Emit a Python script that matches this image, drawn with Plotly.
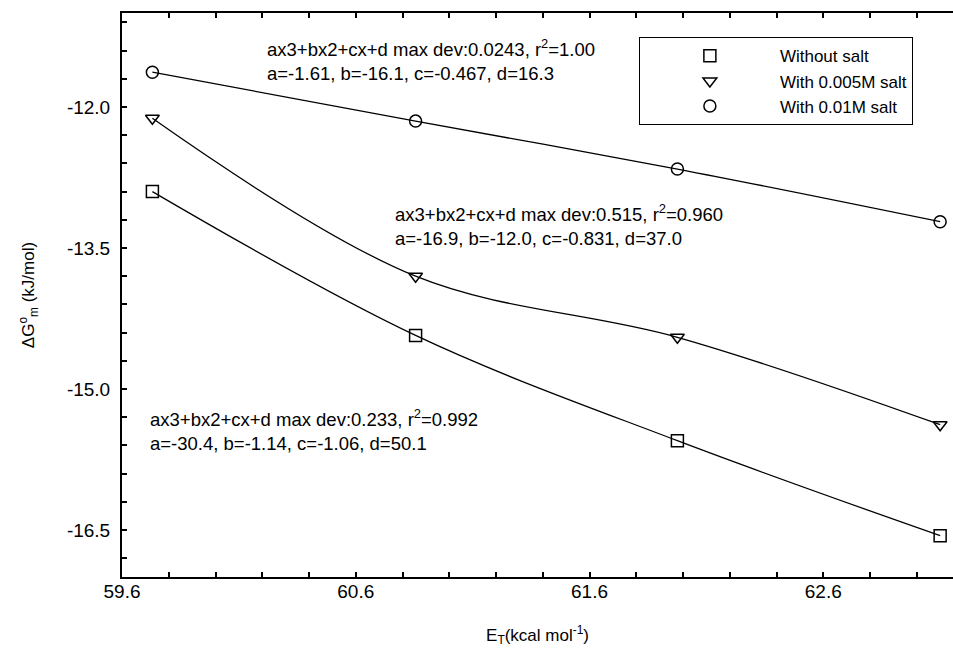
import plotly.graph_objects as go

# Data
ET = [59.73, 60.856, 61.976, 63.10]
without_salt = [-12.90, -14.43, -15.55, -16.56]
salt_0005 = [-12.12, -13.80, -14.45, -15.38]
salt_001 = [-11.63, -12.15, -12.66, -13.22]

series_names = ["Without salt", "With 0.005M salt", "With 0.01M salt"]
series_values = [without_salt, salt_0005, salt_001]
series_symbols = ["square-open", "triangle-down-open", "circle-open"]

x_tick_vals = [59.6, 60.6, 61.6, 62.6]
x_tick_text = ["59.6", "60.6", "61.6", "62.6"]
y_tick_vals = [-12.0, -13.5, -15.0, -16.5]
y_tick_text = ["-12.0", "-13.5", "-15.0", "-16.5"]

fit_texts = [
    "ax3+bx2+cx+d max dev:0.0243, r<sup>2</sup>=1.00<br>a=-1.61, b=-16.1, c=-0.467, d=16.3",
    "ax3+bx2+cx+d max dev:0.515, r<sup>2</sup>=0.960<br>a=-16.9, b=-12.0, c=-0.831, d=37.0",
    "ax3+bx2+cx+d max dev:0.233, r<sup>2</sup>=0.992<br>a=-30.4, b=-1.14, c=-1.06, d=50.1",
]
fit_x = [60.211, 60.758, 59.711]
fit_y = [-11.495, -13.250, -15.431]

FONT = "Liberation Sans, Arial, sans-serif"

fig = go.Figure()
for name, vals in zip(series_names, series_values):
    fig.add_trace(go.Scatter(x=ET, y=vals, mode="lines", line=dict(color="black", width=1.3, shape="spline", smoothing=1.0),
                             showlegend=False, hoverinfo="skip"))
for name, vals, sym in zip(series_names, series_values, series_symbols):
    fig.add_trace(go.Scatter(x=ET, y=vals, mode="markers", name=name,
                             marker=dict(symbol=sym, size=12, color="black", line=dict(color="black", width=1.5))))

for txt, x, y in zip(fit_texts, fit_x, fit_y):
    fig.add_annotation(x=x, y=y, text=txt, showarrow=False, xanchor="left", yanchor="middle", align="left",
                       font=dict(size=18.5, color="black", family=FONT))

tick_style = dict(ticks="inside", ticklen=5, tickwidth=1.5, tickcolor="black")

fig.update_layout(
    width=953, height=651,
    margin=dict(l=122, r=0, t=13, b=74),
    paper_bgcolor="white", plot_bgcolor="white",
    font=dict(family=FONT, color="black", size=18),
    legend=dict(x=0.622, y=0.957, xanchor="left", yanchor="top",
                bordercolor="black", borderwidth=1, bgcolor="white",
                font=dict(size=17, family=FONT), itemwidth=130, tracegroupgap=0),
)
fig.update_xaxes(range=[59.6, 63.155], showline=True, linecolor="black", linewidth=2, mirror="ticks",
                 tickmode="array", tickvals=x_tick_vals, ticktext=x_tick_text,
                 showgrid=False, zeroline=False,
                 minor=dict(dtick=0.2, tick0=59.6, showgrid=False, **tick_style),
                 tickfont=dict(size=19), ticklabelstandoff=-4,
                 title=dict(text="E<sub>T</sub>(kcal mol<sup>-1</sup>)", font=dict(size=17), standoff=28),
                 **tick_style)
fig.update_yaxes(range=[-17.0, -11.0], showline=True, linecolor="black", linewidth=2, mirror=False,
                 tickmode="array", tickvals=y_tick_vals, ticktext=y_tick_text,
                 showgrid=False, zeroline=False,
                 minor=dict(dtick=0.3, tick0=-12.0, showgrid=False, **tick_style),
                 tickfont=dict(size=19), ticklabelstandoff=6,
                 title=dict(text="ΔG<sup>o</sup><sub>m</sub> (kJ/mol)", font=dict(size=17), standoff=28),
                 **tick_style)

fig.write_html("out.html")
